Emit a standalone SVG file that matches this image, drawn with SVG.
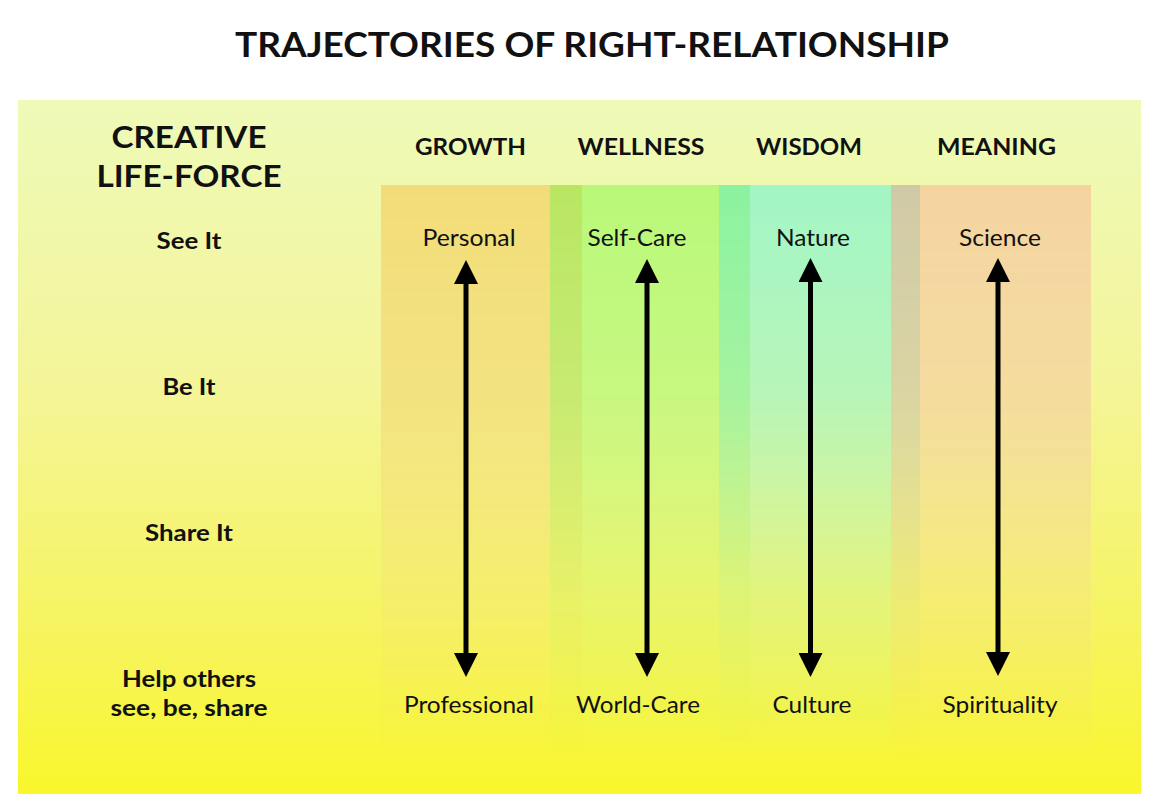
<svg xmlns="http://www.w3.org/2000/svg" width="1160" height="810" viewBox="0 0 1160 810">
<style>
.t{font-family:Lato,"Noto Sans","Liberation Sans",sans-serif;fill:#111;text-anchor:middle}
.title{font-size:35px;font-weight:700}
.big{font-size:30px;font-weight:700}
.hd{font-size:23px;font-weight:700}
.row{font-size:22px;font-weight:700}
.lab{font-size:24px;font-weight:400}
.arr{stroke:#000;stroke-width:5;fill:none}
</style>
<defs>
<linearGradient id="bg" x1="0" y1="0" x2="0" y2="1">
<stop offset="0" stop-color="#eefab8"/>
<stop offset="0.4" stop-color="#f4f59a"/>
<stop offset="0.75" stop-color="#f6f462"/>
<stop offset="1" stop-color="#f9f62c"/>
</linearGradient>
<linearGradient id="fade" x1="0" y1="0" x2="0" y2="1">
<stop offset="0" stop-color="#fff" stop-opacity="1"/>
<stop offset="0.35" stop-color="#fff" stop-opacity="0.75"/>
<stop offset="0.7" stop-color="#fff" stop-opacity="0.22"/>
<stop offset="1" stop-color="#fff" stop-opacity="0"/>
</linearGradient>
<mask id="fm" maskUnits="userSpaceOnUse" x="0" y="0" width="1160" height="810">
<rect x="370" y="185" width="740" height="585" fill="url(#fade)"/>
</mask>
<marker id="ah" viewBox="0 0 24 24" markerWidth="24" markerHeight="24" refX="14" refY="12" orient="auto-start-reverse" markerUnits="userSpaceOnUse">
<path d="M0,0 L24,12 L0,24 z" fill="#000"/>
</marker>
</defs>
<rect x="0" y="0" width="1160" height="810" fill="#fff"/>
<rect x="18" y="100" width="1123" height="694" fill="url(#bg)"/>
<g id="columns" mask="url(#fm)">
<rect x="381" y="185" width="169" height="585" fill="#f2dc78"/>
<rect x="550" y="185" width="32" height="585" fill="#b8e662"/>
<rect x="582" y="185" width="137" height="585" fill="#b8f878"/>
<rect x="719" y="185" width="31" height="585" fill="#8af2a0"/>
<rect x="750" y="185" width="141" height="585" fill="#a2f5c4"/>
<rect x="891" y="185" width="29" height="585" fill="#d0c9a6"/>
<rect x="920" y="185" width="171" height="585" fill="#f4d3a0"/>
</g>
<text class="t title" x="592" y="57" textLength="714" lengthAdjust="spacingAndGlyphs">TRAJECTORIES OF RIGHT-RELATIONSHIP</text>
<g id="side">
<text class="t big" x="189" y="148" textLength="155" lengthAdjust="spacingAndGlyphs">CREATIVE</text>
<text class="t big" x="189" y="187" textLength="185" lengthAdjust="spacingAndGlyphs">LIFE-FORCE</text>
<text class="t row" x="189" y="249" textLength="65" lengthAdjust="spacingAndGlyphs">See It</text>
<text class="t row" x="189" y="395" textLength="53" lengthAdjust="spacingAndGlyphs">Be It</text>
<text class="t row" x="189" y="541" textLength="88" lengthAdjust="spacingAndGlyphs">Share It</text>
<text class="t row" x="189" y="687" textLength="134" lengthAdjust="spacingAndGlyphs">Help others</text>
<text class="t row" x="189" y="716" textLength="157" lengthAdjust="spacingAndGlyphs">see, be, share</text>
</g>
<g id="growth">
<text class="t hd" x="470.5" y="155" textLength="111" lengthAdjust="spacingAndGlyphs">GROWTH</text>
<text class="t lab" x="469" y="246" textLength="93" lengthAdjust="spacingAndGlyphs">Personal</text>
<text class="t lab" x="469" y="713" textLength="130" lengthAdjust="spacingAndGlyphs">Professional</text>
</g>
<g id="wellness">
<text class="t hd" x="641" y="155" textLength="127" lengthAdjust="spacingAndGlyphs">WELLNESS</text>
<text class="t lab" x="637" y="246" textLength="99" lengthAdjust="spacingAndGlyphs">Self-Care</text>
<text class="t lab" x="638" y="713" textLength="124" lengthAdjust="spacingAndGlyphs">World-Care</text>
</g>
<g id="wisdom">
<text class="t hd" x="809" y="155" textLength="106" lengthAdjust="spacingAndGlyphs">WISDOM</text>
<text class="t lab" x="813" y="246" textLength="74" lengthAdjust="spacingAndGlyphs">Nature</text>
<text class="t lab" x="812" y="713" textLength="79" lengthAdjust="spacingAndGlyphs">Culture</text>
</g>
<g id="meaning">
<text class="t hd" x="996.5" y="155" textLength="119" lengthAdjust="spacingAndGlyphs">MEANING</text>
<text class="t lab" x="1000" y="246" textLength="82" lengthAdjust="spacingAndGlyphs">Science</text>
<text class="t lab" x="1000" y="713" textLength="115" lengthAdjust="spacingAndGlyphs">Spirituality</text>
</g>
<g id="connectors">
<line class="arr" x1="466" y1="270" x2="466" y2="667" marker-start="url(#ah)" marker-end="url(#ah)"/>
<line class="arr" x1="647" y1="269" x2="647" y2="667" marker-start="url(#ah)" marker-end="url(#ah)"/>
<line class="arr" x1="810.5" y1="268" x2="810.5" y2="667" marker-start="url(#ah)" marker-end="url(#ah)"/>
<line class="arr" x1="998" y1="268" x2="998" y2="666" marker-start="url(#ah)" marker-end="url(#ah)"/>
</g>
</svg>
